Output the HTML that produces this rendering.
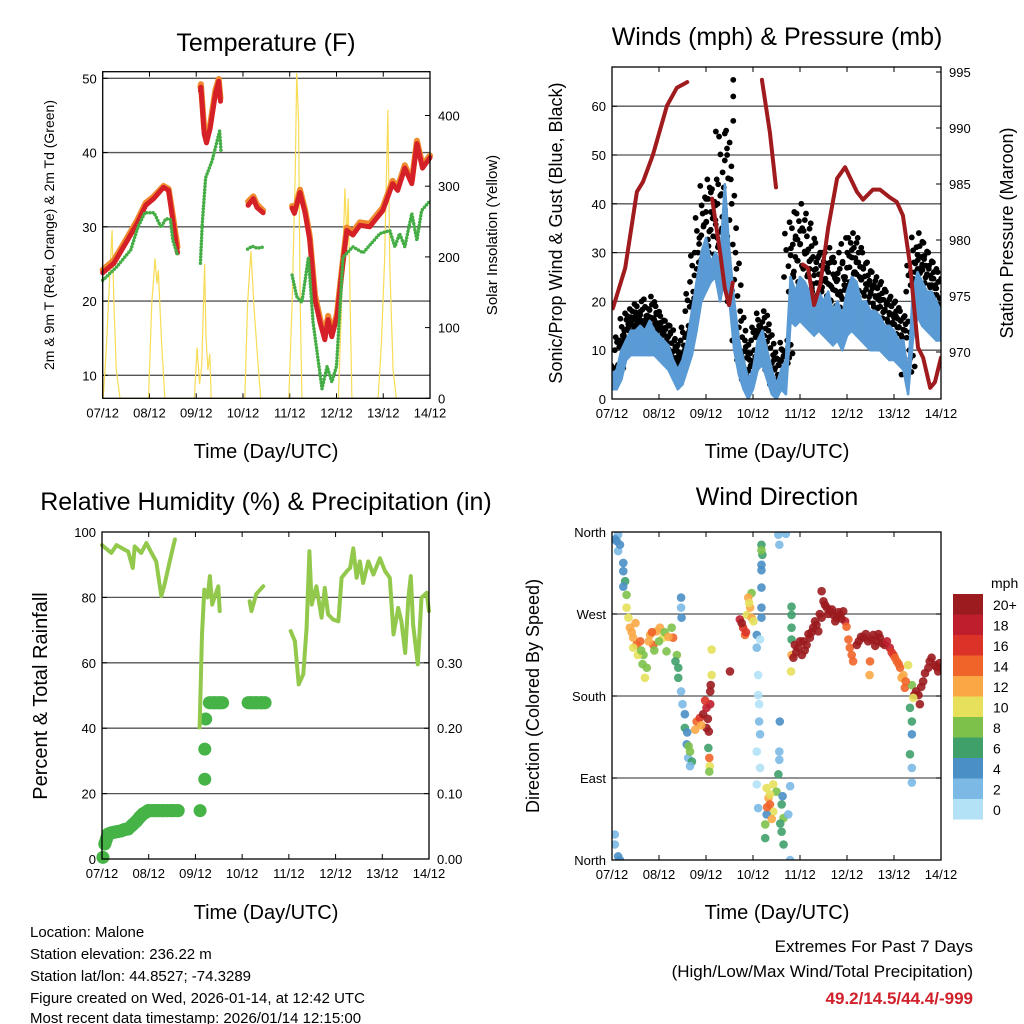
<!DOCTYPE html>
<html><head><meta charset="utf-8"><style>
body{margin:0;background:#fff;}
svg{display:block;font-family:"Liberation Sans",Arial,sans-serif;}
</style></head><body>
<svg id="s" width="1024" height="1024" viewBox="0 0 1024 1024" xmlns="http://www.w3.org/2000/svg">
<g font-size="25" text-anchor="middle" fill="#000">
<text x="266" y="51">Temperature (F)</text>
<text x="777" y="45">Winds (mph) &amp; Pressure (mb)</text>
<text x="266" y="510">Relative Humidity (%) &amp; Precipitation (in)</text>
<text x="777" y="505">Wind Direction</text>
</g>
<g font-size="20" text-anchor="middle">
<text x="266" y="458">Time (Day/UTC)</text>
<text x="777" y="458">Time (Day/UTC)</text>
<text x="266" y="919">Time (Day/UTC)</text>
<text x="777" y="919">Time (Day/UTC)</text>
</g>
<text transform="translate(54,235) rotate(-90)" font-size="14" text-anchor="middle">2m &amp; 9m T (Red, Orange) &amp; 2m Td (Green)</text>
<text transform="translate(497,235) rotate(-90)" font-size="15" text-anchor="middle">Solar Insolation (Yellow)</text>
<text transform="translate(562,233) rotate(-90)" font-size="18" text-anchor="middle">Sonic/Prop Wind &amp; Gust (Blue, Black)</text>
<text transform="translate(1013,233) rotate(-90)" font-size="18" text-anchor="middle">Station Pressure (Maroon)</text>
<text transform="translate(47,696) rotate(-90)" font-size="20" text-anchor="middle">Percent &amp; Total Rainfall</text>
<text transform="translate(539,696) rotate(-90)" font-size="18" text-anchor="middle">Direction (Colored By Speed)</text>
<g font-size="15">
<text x="30" y="937">Location: Malone</text>
<text x="30" y="959">Station elevation: 236.22 m</text>
<text x="30" y="981">Station lat/lon: 44.8527; -74.3289</text>
<text x="30" y="1003">Figure created on Wed, 2026-01-14, at 12:42 UTC</text>
<text x="30" y="1023">Most recent data timestamp: 2026/01/14 12:15:00</text>
</g>
<g text-anchor="end">
<text x="973" y="952" font-size="17">Extremes For Past 7 Days</text>
<text x="973" y="977" font-size="17">(High/Low/Max Wind/Total Precipitation)</text>
<text x="973" y="1004" font-size="17" font-weight="bold" fill="#d0202a">49.2/14.5/44.4/-999</text>
</g>
</svg>
<script>
// ---- data (time in days since 07/12 00 UTC) ----
const dayLabels = ["07/12","08/12","09/12","10/12","11/12","12/12","13/12","14/12"];
const tempTime = [0,0.24,0.53,0.74,0.92,1.09,1.3,1.41,1.49,1.6,null,2.09,2.1,2.17,2.22,2.3,2.41,2.48,2.52,null,3.11,3.22,3.3,3.43,null,4.05,4.1,4.22,4.33,4.43,4.54,4.65,4.75,4.82,4.9,5.01,5.12,5.22,5.35,5.5,5.71,5.99,6.2,6.31,6.46,6.61,6.72,6.84,7.0];
const temp2m = [23.8,25.1,28.2,30.5,32.9,33.8,35.3,34.9,31.3,26.5,null,48.3,48.8,42.5,41.3,43.3,47.9,49.6,46.9,null,32.9,33.8,32.6,31.9,null,32.5,31.8,34.6,31.8,28.2,20.2,17.1,14.8,17.5,15.2,17.9,24.2,29.5,28.9,30.2,30.0,32.2,35.8,34.9,37.9,35.8,41.2,37.9,39.3];
const temp9m = [24.2,25.5,28.6,30.9,33.2,34.1,35.5,35.1,31.9,27.3,null,48.8,49.2,43.2,42.0,43.8,48.4,49.9,47.3,null,33.4,34.1,33.0,32.2,null,32.8,32.1,35.0,32.2,28.7,20.8,17.6,15.3,18.0,15.7,18.3,24.6,29.9,29.3,30.6,30.4,32.6,36.2,35.3,38.3,36.2,41.6,38.3,39.6];
const dewTime = [0,0.3,0.6,0.75,0.9,1.1,1.25,1.35,1.45,1.5,1.6,null,2.09,2.13,2.2,2.34,2.5,2.53,null,3.1,3.2,3.3,3.45,null,4.05,4.15,4.26,4.4,4.5,4.69,4.8,4.9,5.0,5.14,5.35,5.57,5.93,6.14,6.25,6.35,6.46,6.61,6.72,6.82,7.0];
const dewVal = [22.8,24.6,26.9,29.9,31.9,31.9,29.9,31.1,31,28.2,26.2,null,25.1,30.5,36.6,38.9,42.9,40.2,null,27.0,27.4,27.1,27.3,null,23.5,20.6,19.8,25.9,17.1,8.2,11.2,9.1,11.2,25.9,27.3,26.5,29.1,29.5,27.3,29.1,27.3,31.8,28.2,32.2,33.5];
const solarTime = [0.01,0.08,0.14,0.2,0.24,0.29,0.37,0.98,1.05,1.12,1.16,1.19,1.26,1.33,1.96,2.02,2.07,2.12,2.18,2.21,2.25,2.29,2.32,3.04,3.1,3.17,3.24,3.31,3.38,3.98,4.05,4.12,4.15,4.19,4.22,4.26,5.04,5.11,5.18,5.22,5.25,5.33,5.89,5.96,6.03,6.1,6.14,6.21,6.28];
const solarVal = [0,72,158,238,135,40,0,0,135,198,162,181,78,0,0,72,20,48,190,87,40,63,0,0,135,208,125,59,0,0,135,323,460,390,155,0,0,135,297,226,283,0,0,78,196,408,186,40,0];
const windTime = [0,0.1,0.2,0.3,0.4,0.5,0.6,0.7,0.8,0.9,1.0,1.1,1.2,1.3,1.4,1.5,1.6,1.7,1.8,1.9,2.0,2.1,2.2,2.3,2.4,2.5,2.6,2.7,2.8,2.9,3.0,3.1,3.2,3.3,3.4,3.5,3.6,3.7,3.8,3.9,4.0,4.1,4.2,4.3,4.4,4.5,4.6,4.7,4.8,4.9,5.0,5.1,5.2,5.3,5.4,5.5,5.6,5.7,5.8,5.9,6.0,6.1,6.2,6.3,6.4,6.5,6.6,6.7,6.8,6.9,7.0];
const windLow = [2,2,4,8,9,9,9,9,9,9,8,7,6,4,2,3,6,9,14,20,22,24,25,20,25,20,10,5,2,0,2,6,7,4,1,0,2,1,16,15,16,15,14,13,14,13,12,11,12,10,13,14,13,12,11,10,10,10,9,8,8,7,6,1,12,17,15,14,13,12,12];
const windHigh = [5,6,10,12,14,14,15,14,16,14,13,12,11,8,6,8,12,18,24,30,33,28,30,28,44,30,20,12,8,4,6,12,14,10,6,3,6,8,25,22,25,24,22,20,22,20,22,18,20,17,22,25,24,20,20,18,18,17,15,15,14,12,12,5,22,26,24,22,22,20,18];
const gustVal = [5,7,13,17,18,19,20,17,21,19,17,16,15,12,9,11,15,22,30,38,45,43,45,42,55,45,30,18,12,8,10,15,18,14,9,5,10,12,35,38,40,38,36,32,30,30,31,28,30,25,33,34,33,30,28,26,25,24,22,21,20,18,17,10,28,34,32,30,28,26,24];
const gustPeakTime = [2.21,2.4,2.58,2.58,2.58,2.45,2.0];
const gustPeakVal = [54.8,54.4,57,62,65.4,50,41];
const presTime = [0.02,0.28,0.53,0.66,0.87,1.17,1.38,1.6,null,2.13,2.3,2.4,2.49,2.57,null,3.19,3.36,3.49,null,4.06,4.17,4.3,4.43,4.6,4.79,4.96,5.21,5.34,5.55,5.7,5.91,6.06,6.19,6.34,6.51,6.62,6.77,6.87,7.0];
const presVal = [973.9,977.5,984.3,985.2,987.6,992,993.6,994.1,null,983.7,978.9,975.7,974.2,976.2,null,994.3,989.6,984.7,null,977.8,977.5,974.2,976,981.1,985.5,986.5,984.3,983.6,984.5,984.5,983.8,983.4,982.2,977.8,970.4,969.5,966.8,967.3,969.5];
const rhTime = [0,0.2,0.31,0.56,0.66,0.7,0.84,0.95,1.06,1.16,1.27,1.34,1.45,1.56,null,2.09,2.14,2.19,2.26,2.31,2.36,2.43,2.49,2.52,null,3.16,3.2,3.3,3.45,null,4.04,4.13,4.21,4.31,4.38,4.44,4.49,4.59,4.7,4.77,4.84,4.95,5.06,5.13,5.24,5.31,5.38,5.45,5.52,5.59,5.7,5.81,5.95,6.06,6.16,6.24,6.34,6.41,6.49,6.56,6.61,6.66,6.76,6.84,6.95,7.0];
const rhVal = [96,93.6,96,94,89,95.6,93.6,96.6,93.6,91,80.4,84,91,97.7,null,40.2,68.7,82.4,80,86.5,77.8,80.9,83.4,75.8,null,78.8,75.8,81,83.4,null,69.7,66.6,53.4,56.5,70.7,94.1,77.8,83.4,73.8,82.9,74.8,73.2,72.7,86,88,89,95,86,91,84.4,91,87,92,88,86,68.7,76.8,72.7,63,79.9,86.5,71.7,59.5,79.9,81.4,75.8];
const precipTime = [0.02,0.06,0.13,0.2,0.27,0.34,0.41,0.48,0.56,0.65,0.74,0.81,0.88,0.95,0.99,1.1,1.2,1.3,1.4,1.5,1.63,2.1,2.2,2.2,2.22,2.3,2.4,2.5,2.58,3.13,3.2,3.3,3.4,3.49];
const precipVal = [0.0025,0.023,0.038,0.04,0.041,0.042,0.043,0.045,0.046,0.052,0.058,0.064,0.069,0.072,0.074,0.074,0.074,0.074,0.074,0.074,0.074,0.074,0.122,0.168,0.214,0.239,0.239,0.239,0.239,0.239,0.239,0.239,0.239,0.239];
const dirData = [
[0.13,357,3],[0.1,350,4],[0.13,339,2],[0.17,346,4],[0.07,352,4],[0.24,326,4],[0.24,317,4],[0.28,306,6],[0.24,300,4],
[0.06,28,3],[0.06,17,2],[0.13,4,4],[0.17,0,4],
[0.31,291,8],[0.31,277,10],[0.35,266,10],[0.38,255,12],[0.45,244,12],[0.52,236,14],[0.45,233,10],[0.6,240,14],[0.67,225,8],[0.74,211,8],[0.7,200,10],[0.81,247,12],[0.88,236,14],[0.95,251,12],[1.02,255,12],[1.09,244,10],[1.16,229,8],[1.27,255,8],[1.3,244,14],[1.38,225,8],[1.41,211,6],[1.41,200,6],[0.42,250,12],[0.55,225,10],[0.62,230,8],[0.78,240,12],[0.85,250,14],[0.9,230,8],[1.0,240,8],[1.12,250,8],[1.2,245,12],[0.5,260,12],[0.65,215,8],[1.35,218,6],
[1.47,288,4],[1.47,277,2],[1.48,266,4],[1.47,185,3],[1.5,171,2],
[1.55,160,4],[1.55,145,6],[1.59,127,4],[1.62,112,3],[1.66,119,8],[1.7,108,6],[1.66,103,3],[1.6,140,4],[1.63,125,8],
[1.8,152,14],[1.87,156,16],[1.94,160,20],[2.01,167,18],[2.01,145,20],[2.09,185,20],[2.09,171,18],[1.77,143,12],[2.06,141,20],[2.1,192,20],[2.12,203,10],[2.12,231,10],[2.51,207,20],[1.9,148,12],[1.98,175,16],[2.04,155,20],
[2.05,123,6],[2.07,112,14],[2.08,103,10],[2.07,97,8],
[2.72,264,18],[2.79,255,16],[2.83,247,14],[2.87,269,10],[2.94,277,12],[2.97,266,12],[2.97,293,8],[3.01,262,10],[2.9,288,12],[2.76,260,20],[2.85,250,16],[2.92,282,10],
[3.18,346,6],[3.2,335,6],[3.18,324,4],[3.18,299,4],[3.18,277,4],[3.18,266,4],[3.08,247,4],[3.08,233,2],[3.15,242,1],[3.11,203,1],[3.11,181,1],[3.13,171,1],[3.13,152,2],[3.15,138,2],[3.08,119,1],[3.15,101,1],[3.08,83,1],[3.11,57,2],[3.18,340,8],[3.18,318,4],
[3.29,79,10],[3.33,68,12],[3.36,61,14],[3.43,53,10],[3.29,50,4],[3.26,39,8],[3.26,24,6],[3.43,83,10],[3.54,94,6],[3.5,75,8],[3.61,61,6],[3.65,46,8],[3.61,31,6],[3.65,17,6],[3.79,81,3],[3.75,50,2],[3.79,0,2],[3.36,72,10],[3.4,45,12],[3.3,58,14],[3.58,40,6],[3.63,70,4],
[3.54,357,2],[3.7,358,2],[3.56,346,2],[3.57,152,4],[3.56,119,3],[3.56,110,3],
[3.82,278,6],[3.82,269,6],[3.82,255,6],[3.82,242,6],[3.81,207,10],[3.82,225,12],
[3.86,222,20],[3.89,236,20],[3.96,233,20],[4.04,225,20],[4.07,240,20],[4.14,236,20],[4.21,244,20],[4.28,255,20],[4.35,258,20],[4.39,251,20],[4.46,266,20],[4.46,295,20],[4.5,284,20],[4.57,277,20],[4.64,273,20],[4.71,269,20],[4.78,266,20],[4.85,269,20],[4.92,273,20],[4.96,262,18],[4.99,256,14],[5.03,242,14],[5.06,233,14],[5.1,225,14],[5.13,218,14],[5.21,236,20],[5.35,244,20],[5.45,240,20],[5.49,218,14],[5.48,203,12],[5.56,247,20],[5.63,240,20],[5.7,244,20],[5.8,236,20],[5.91,233,18],[5.99,225,16],[6.06,218,14],[6.13,211,14],[6.2,203,12],[6.23,189,14],[6.3,214,10],[6.38,192,8],[6.43,181,20],[6.52,181,20],[6.55,171,20],[6.62,196,20],[6.73,211,20],[6.8,222,20],[6.87,214,20],[6.94,207,20],[7.0,211,20],
[3.92,228,20],[4.0,240,20],[4.1,230,20],[4.18,248,20],[4.25,250,20],[4.32,262,20],[4.42,270,20],[4.53,280,20],[4.6,270,20],[4.68,275,20],[4.75,262,20],[4.82,272,20],[4.88,265,20],[5.25,240,20],[5.3,245,20],[5.4,248,20],[5.52,242,20],[5.6,235,20],[5.67,248,20],[5.75,238,20],[5.85,240,18],[5.95,228,16],[6.02,222,14],[6.1,215,14],[6.16,200,12],[6.25,196,14],[6.47,185,20],[6.58,190,20],[6.66,205,20],[6.76,218,20],[6.9,212,20],[6.97,216,20],
[6.34,167,6],[6.38,152,6],[6.38,138,4],[6.34,116,6],[6.38,101,3],[6.38,85,3],[6.41,178,10]
];
const speedColors = ["#b3e2f7","#7cb9e4","#4a8fc6","#3fa06a","#7dc14a","#e6e05a","#f9a845","#f06429","#dc3328","#bf1e2d","#9b1b1e"];
const speedLabels = ["0","2","4","6","8","10","12","14","16","18","20+"];
const tempTicks = [10,20,30,40,50];
const solarTicks = [0,100,200,300,400];
const windTicks = [0,10,20,30,40,50,60];
const presTicks = [970,975,980,985,990,995];
const rhTicks = [0,20,40,60,80,100];
const precipTicks = [0,0.1,0.2,0.3];
const precipTickLabels = ["0.00","0.10","0.20","0.30"];
const dirTicks = [0,90,180,270,360];
const dirTickLabels = ["North","East","South","West","North"];

// ---- helpers ----
const NS="http://www.w3.org/2000/svg", svg=document.getElementById('s');
function el(tag,attrs,parent){const e=document.createElementNS(NS,tag);for(const k in attrs)e.setAttribute(k,attrs[k]);(parent||svg).appendChild(e);return e;}
function lin(d0,d1,r0,r1){return v=>r0+(v-d0)*(r1-r0)/(d1-d0);}
function pathD(ts,vs,xs,ys){let d="",pen=false;for(let i=0;i<ts.length;i++){if(ts[i]===null||vs[i]===null){pen=false;continue;}d+=(pen?"L":"M")+xs(ts[i]).toFixed(1)+","+ys(vs[i]).toFixed(1);pen=true;}return d;}

const P={
 T:{x0:102.7,x1:430,y0:71.7,y1:398.3},
 W:{x0:612,x1:941,y0:67,y1:399},
 R:{x0:102,x1:429,y0:532,y1:859},
 D:{x0:612,x1:941,y0:532,y1:860}
};
const xT=lin(0,7,P.T.x0,P.T.x1), yT=lin(10,50,375.3,78.3), yS=lin(0,400,398.3,115.5);
const xW=lin(0,7,P.W.x0,P.W.x1), yW=lin(0,60,399,106.2), yP=lin(970,995,352,72);
const xR=lin(0,7,P.R.x0,P.R.x1), yR=lin(0,100,859,532), yPr=lin(0,0.1,859,793.6);
const xD=lin(0,7,P.D.x0,P.D.x1), yD=lin(0,360,860,532);

function frame(p,name,xs,grids,gy){
 const g=el('g',{});
 
 
 grids.forEach(v=>{const l=el('line',{x1:p.x0,x2:p.x1,y1:gy(v),y2:gy(v),stroke:'#555','stroke-width':1.3},g);
  
  });
 dayLabels.forEach((lab,i)=>{const x=xs(i);
  el('line',{x1:x,x2:x,y1:p.y1,y2:p.y1-5,stroke:'#000'},g);
  el('line',{x1:x,x2:x,y1:p.y0,y2:p.y0+5,stroke:'#000'},g);
  const t=el('text',{x:x,y:p.y1+19,'font-size':13,'text-anchor':'middle'},g);t.textContent=lab;
  
  });
 return g;
}
function leftTicks(p,name,vals,labels,ys,g){vals.forEach((v,i)=>{const y=ys(v);
 el('line',{x1:p.x0,x2:p.x0+5,y1:y,y2:y,stroke:'#000'},g);
 const t=el('text',{x:p.x0-6,y:y+5,'font-size':13,'text-anchor':'end'},g);t.textContent=labels[i];
 
 });}
function rightTicks(p,name,vals,labels,ys,g){vals.forEach((v,i)=>{const y=ys(v);
 el('line',{x1:p.x1,x2:p.x1-5,y1:y,y2:y,stroke:'#000'},g);
 const t=el('text',{x:p.x1+8,y:y+5,'font-size':13},g);t.textContent=labels[i];
 
 });}
function border(p,name){const r=el('rect',{x:p.x0,y:p.y0,width:p.x1-p.x0,height:p.y1-p.y0,fill:'none',stroke:'#000','stroke-width':1.3});
 
 }
function clip(id,p){const c=el('clipPath',{id:id});el('rect',{x:p.x0,y:p.y0,width:p.x1-p.x0,height:p.y1-p.y0},c);}

// ---- Temperature panel ----
let g=frame(P.T,'temp',xT,tempTicks,yT);
leftTicks(P.T,'temp',tempTicks,tempTicks.map(String),yT,g);
rightTicks(P.T,'solar',solarTicks,solarTicks.map(String),yS,g);
clip('cT',P.T);
let s=el('path',{d:pathD(solarTime,solarVal,xT,yS),fill:'none',stroke:'#f9dc55','stroke-width':1.2,'clip-path':'url(#cT)'});


s=el('path',{d:pathD(tempTime,temp9m,xT,yT),fill:'none',stroke:'#f08a2e','stroke-width':6,'stroke-linejoin':'round','stroke-linecap':'round'});


s=el('path',{d:pathD(tempTime,temp2m,xT,yT),fill:'none',stroke:'#d42026','stroke-width':5,'stroke-linejoin':'round','stroke-linecap':'round'});


s=el('path',{d:pathD(dewTime,dewVal,xT,yT),fill:'none',stroke:'#45ad45','stroke-width':3.5,'stroke-linecap':'round','stroke-dasharray':'0 3.2'});


border(P.T,'temp');

// ---- Winds panel ----
g=frame(P.W,'winds',xW,windTicks.slice(1),yW);
leftTicks(P.W,'winds',windTicks,windTicks.map(String),yW,g);
rightTicks(P.W,'pressure',presTicks,presTicks.map(String),yP,g);
clip('cW',P.W);
const wg=el('g',{'clip-path':'url(#cW)'});


const offs=[-3,1.5,-1,3,0,-2,1,2.2,-2.6,0.6];
windTime.forEach((t,i)=>{
 const x=xW(t);
 const top=yW(gustVal[i]),hi=yW(windHigh[i]);
 for(let k=0;k<10;k++){const y=hi+(top-hi)*k/9;const c=el('circle',{cx:x+offs[k]*2.2,cy:y,r:2.9,fill:'#000'},wg);
  
  }
});
gustPeakTime.forEach((t,i)=>{const c=el('circle',{cx:xW(t),cy:yW(gustPeakVal[i]),r:2.9,fill:'#000'},wg);
 
 });
windTime.forEach((t,i)=>{if(i===0)return;
 const xa=xW(windTime[i-1]),xb=xW(t);
 const poly=el('polygon',{points:`${xa},${yW(windLow[i-1])} ${xb},${yW(windLow[i])} ${xb},${yW(windHigh[i])} ${xa},${yW(windHigh[i-1])}`,fill:'#5b9bd5',stroke:'#5b9bd5','stroke-width':2.5,'stroke-linejoin':'round'},wg);
 
 });
s=el('path',{d:pathD(presTime,presVal,xW,yP),fill:'none',stroke:'#a01b1e','stroke-width':4,'stroke-linejoin':'round','stroke-linecap':'round'},wg);


border(P.W,'winds');

// ---- RH panel ----
g=frame(P.R,'rh',xR,[20,40,60,80],yR);
leftTicks(P.R,'rh',rhTicks,rhTicks.map(String),yR,g);
rightTicks(P.R,'precip',precipTicks,precipTickLabels,yPr,g);
precipTime.forEach((t,i)=>{
 const c=el('circle',{cx:xR(t),cy:yPr(precipVal[i]),r:6.5,fill:'#46b347'});
 
 
 if(i===0)return;
 if(t-precipTime[i-1]<0.2&&Math.abs(precipVal[i]-precipVal[i-1])<0.02){
 const l=el('line',{x1:xR(precipTime[i-1]),y1:yPr(precipVal[i-1]),x2:xR(t),y2:yPr(precipVal[i]),stroke:'#46b347','stroke-width':13,'stroke-linecap':'round'});
 
 }});
s=el('path',{d:pathD(rhTime,rhVal,xR,yR),fill:'none',stroke:'#92c94c','stroke-width':4,'stroke-linejoin':'round','stroke-linecap':'round'});


border(P.R,'rh');

// ---- Wind direction panel ----
g=frame(P.D,'dir',xD,[90,180,270],yD);
leftTicks(P.D,'dir',dirTicks,dirTickLabels,yD,g);
dirTicks.forEach(v=>el('line',{x1:P.D.x1,x2:P.D.x1-5,y1:yD(v),y2:yD(v),stroke:'#000'},g));
clip('cD',P.D);
const dg=el('g',{'clip-path':'url(#cD)','fill-opacity':0.9});


dirData.forEach(d=>{const idx=Math.min(10,Math.floor(d[2]/2));
 const c=el('circle',{cx:xD(d[0]),cy:yD(d[1]),r:4.3,fill:speedColors[idx]},dg);
 
 });
border(P.D,'dir');
const cb=el('g',{});


const mph=el('text',{x:991,y:588,'font-size':14},cb);mph.textContent='mph';
speedColors.forEach((c,i)=>{const y=594+(10-i)*20.5;
 const r=el('rect',{x:953,y:y,width:30,height:20.5,fill:c},cb);
 
 
 const t=el('text',{x:993,y:y+16,'font-size':14},cb);t.textContent=speedLabels[i];
 
 });
</script>
</body></html>
